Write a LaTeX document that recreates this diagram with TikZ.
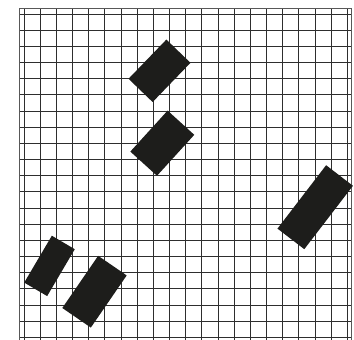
\documentclass[tikz,border=0pt]{standalone}
\usepackage{xcolor}
\definecolor{GridInk}{HTML}{2E2E2E}
\definecolor{BlockInk}{HTML}{1D1D1B}
\usepackage{tikz}

\begin{document}
\begin{tikzpicture}[x=1pt, y=-1pt]
  \useasboundingbox (0,0) rectangle (354,340);
  \fill[white] (0,0) rectangle (354,340);

  %% grid (21 lines each way, spacing 16.17)
  \foreach \k in {0,...,20}{
    \draw[GridInk, line width=0.9pt] ({24+16.17*\k},8.5) -- ({24+16.17*\k},340);
    \draw[GridInk, line width=0.9pt] (19.5,{14+16.17*\k}) -- (351.5,{14+16.17*\k});
  }
  %% outer border
  \draw[GridInk!80, line width=0.9pt] (19.5,340) -- (19.5,8.5) -- (351.5,8.5) -- (351.5,340);

  %% blocks (centre x/y, angle, long side, short side)
  \foreach \cx/\cy/\ang/\len/\wid in {
    159.5/70.8/46/54.5/33.5,
    162.3/143.2/47.7/55.4/36,
    315.2/207.2/52.5/79.9/33.8,
    49.5/265.9/59.5/54.4/26.6,
    94.5/291.7/55.5/63.3/34.6}{
    \fill[BlockInk, shift={(\cx,\cy)}, rotate=\ang]
      ({-\len/2},{-\wid/2}) rectangle ({\len/2},{\wid/2});
  }
\end{tikzpicture}
\end{document}
